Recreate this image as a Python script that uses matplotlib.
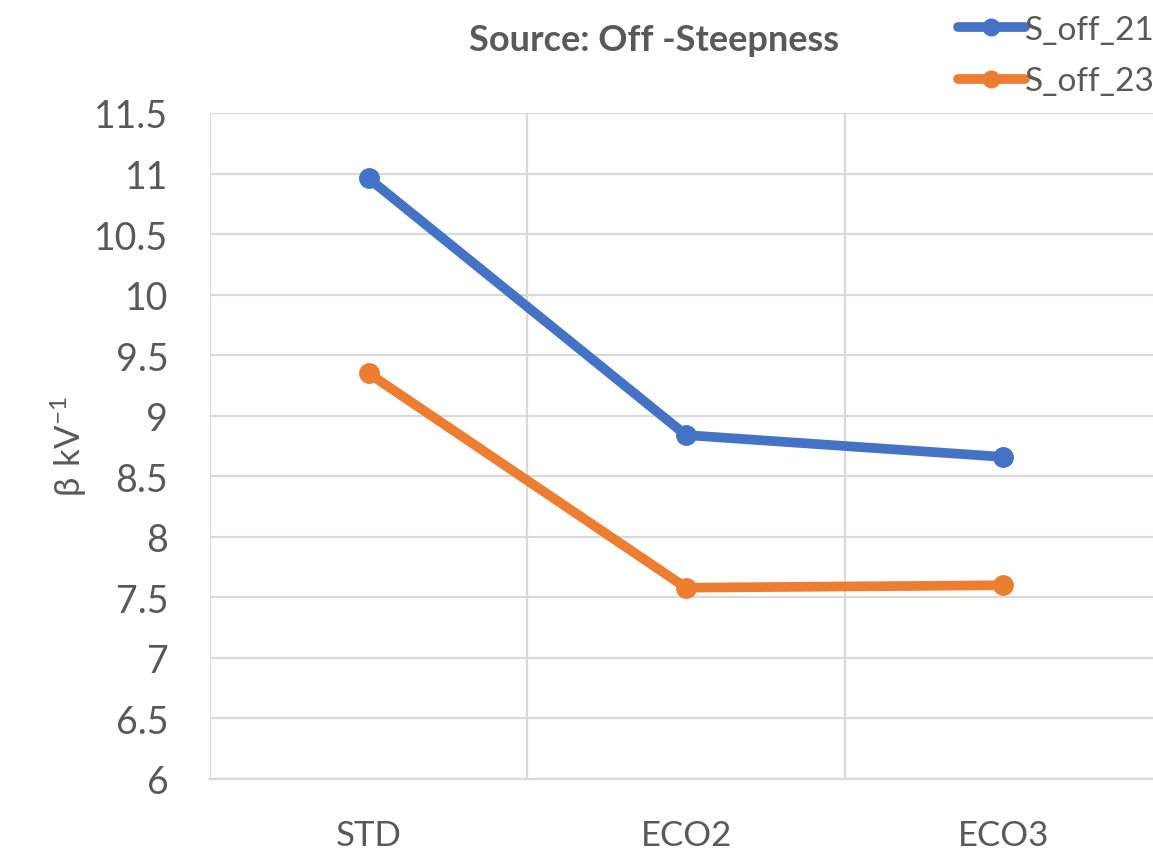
import matplotlib.pyplot as plt
import numpy as np

# Off-steepness beta values per design
designs = ['STD', 'ECO2', 'ECO3']
s_off_21 = [10.96, 8.84, 8.66]
s_off_23 = [9.35, 7.58, 7.60]
yticks = np.arange(6, 11.51, 0.5)
ytick_labels = ['6', '6.5', '7', '7.5', '8', '8.5', '9', '9.5', '10', '10.5', '11', '11.5']

plt.rcParams['font.family'] = ['Lato', 'DejaVu Sans']
grey = '#595959'

fig = plt.figure(figsize=(11.53, 8.62), dpi=100)
ax = fig.add_axes([210/1153, 82/862, 952/1153, 666/862])

x = np.arange(len(designs))
ax.plot(x, s_off_21, color='#4472c4', lw=7, marker='o', ms=14,
        solid_capstyle='round', label='S_off_21', zorder=3)
ax.plot(x, s_off_23, color='#ed7d31', lw=7, marker='o', ms=14,
        solid_capstyle='round', label='S_off_23', zorder=3)

ax.set_xlim(-0.5, 2.5)
ax.set_ylim(6, 11.5)
ax.set_yticks(yticks)
ax.set_yticklabels(ytick_labels)
ax.set_xticks(x)
ax.set_xticklabels(designs)
ax.set_xticks([-0.5, 0.5, 1.5, 2.5], minor=True)

ax.grid(True, axis='y', color='#d9d9d9', lw=1.6)
ax.grid(True, axis='x', which='minor', color='#d9d9d9', lw=1.6)
ax.set_axisbelow(True)
for side in ['top', 'right', 'left']:
    ax.spines[side].set_visible(False)
ax.spines['bottom'].set_color('#d9d9d9')
ax.spines['bottom'].set_linewidth(1.6)

ax.tick_params(axis='both', which='both', length=0, colors=grey, labelsize=27)
ax.tick_params(axis='x', labelsize=25, pad=29)
ax.tick_params(axis='y', pad=30)

ax.set_ylabel(r'$\mathregular{\beta\ kV^{-1}}$', fontsize=25, color=grey, labelpad=4)
fig.text(0.567, 0.953, 'Source: Off -Steepness', ha='center', va='center',
         fontsize=26, fontweight='bold', color=grey)

leg = fig.legend(loc='upper left', bbox_to_anchor=(938/1153, 1.005), frameon=False,
                 fontsize=24, handlelength=2.0, handletextpad=0.0,
                 labelspacing=0.65, borderaxespad=0.2, markerscale=0.85)
for t in leg.get_texts():
    t.set_color(grey)

fig.savefig('out.png', dpi=100)
